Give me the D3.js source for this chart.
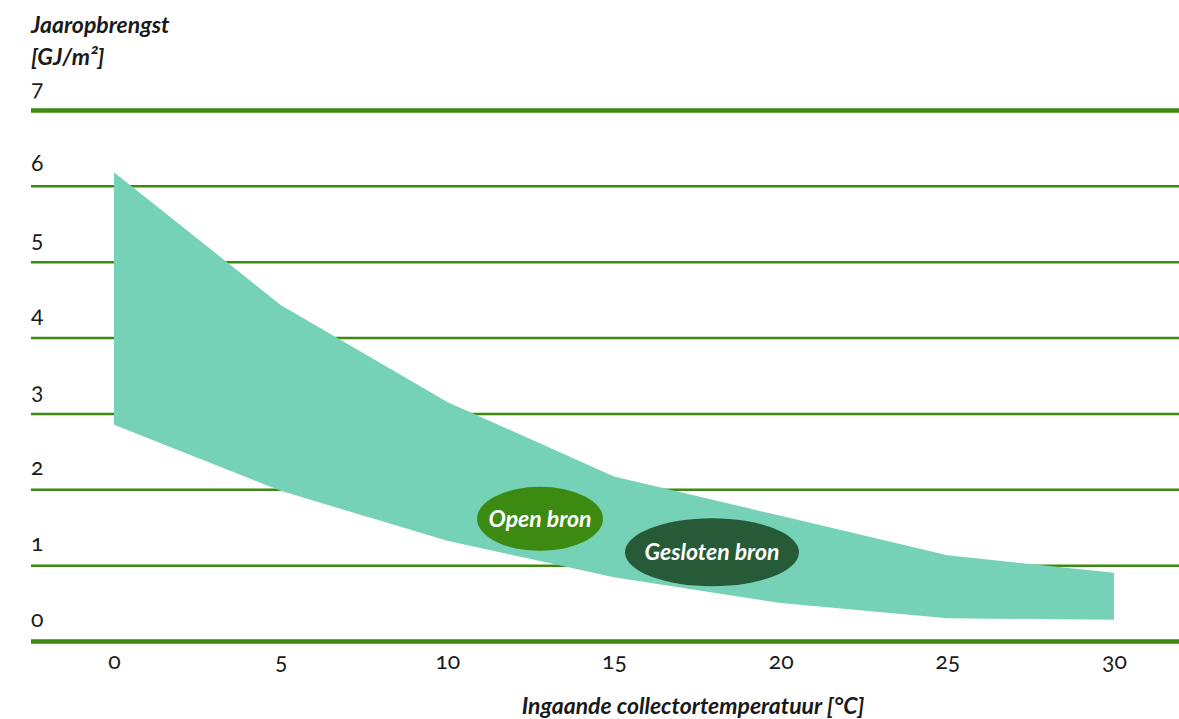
<!DOCTYPE html>
<meta charset="utf-8">
<style>

body {
  margin: 0;
  background: #fff;
}

text {
  font-family: Lato, "Open Sans", sans-serif;
  font-variant-numeric: oldstyle-nums;
  fill: #1a1a1a;
}

.title {
  font-size: 23px;
  font-weight: bold;
  font-style: italic;
}

.tick text {
  font-size: 23px;
}

.label {
  font-size: 23px;
  font-weight: bold;
  font-style: italic;
  fill: #fff;
}

</style>
<svg width="1179" height="719"></svg>
<script src="https://d3js.org/d3.v7.min.js"></script>
<script>

// collector inlet temperature [°C]
var temps = [0, 5, 10, 15, 20, 25, 30];
// yearly yield band [GJ/m2]
var upper = [6.18, 4.43, 3.15, 2.17, 1.65, 1.13, 0.90];
var lower = [2.85, 1.98, 1.32, 0.84, 0.50, 0.30, 0.28];

var yTicks = [0, 1, 2, 3, 4, 5, 6, 7];
var xTicks = [0, 5, 10, 15, 20, 25, 30];

// labels inside the band
var labels = ["Open bron", "Gesloten bron"];
var labelX = [12.78, 17.94];
var labelY = [1.61, 1.17];
var labelColors = ["#3c8a12", "#275b38"];

var svg = d3.select("svg"),
    width = +svg.attr("width"),
    height = +svg.attr("height");

var x = d3.scaleLinear().domain([0, 30]).range([114, 1114]),
    y = d3.scaleLinear().domain([0, 7]).range([641, 110]);

var left = 31;

// gridlines with labels sitting above them
var yAxis = svg.append("g")
    .attr("transform", "translate(" + left + ",0)")
    .call(d3.axisRight(y).tickValues(yTicks).tickSize(width - left).tickFormat(d3.format("d")));

yAxis.select(".domain").remove();
yAxis.selectAll(".tick line")
    .attr("stroke", "#3c8a12")
    .attr("stroke-width", function(d) { return d === 0 || d === 7 ? 4.5 : 2.5; });
yAxis.selectAll(".tick text")
    .attr("x", 0)
    .attr("dy", "-0.65em")
    .attr("text-anchor", "start")
    .attr("fill", "#1a1a1a");

var xAxis = svg.append("g")
    .attr("transform", "translate(0," + y(0) + ")")
    .call(d3.axisBottom(x).tickValues(xTicks).tickSize(0).tickPadding(12).tickFormat(d3.format("d")));

xAxis.select(".domain").remove();
xAxis.selectAll(".tick text").attr("fill", "#1a1a1a");

// band
var band = temps.map(function(t, i) { return {t: t, hi: upper[i], lo: lower[i]}; });

svg.append("path")
    .datum(band)
    .attr("fill", "#76d2b7")
    .attr("d", d3.area()
      .x(function(d) { return x(d.t); })
      .y0(function(d) { return y(d.lo); })
      .y1(function(d) { return y(d.hi); }));

// labels
var lab = svg.selectAll(".lab")
    .data(labels)
  .enter().append("g")
    .attr("class", "lab")
    .attr("transform", function(d, i) { return "translate(" + x(labelX[i]) + "," + y(labelY[i]) + ")"; });

lab.append("ellipse")
    .attr("rx", function(d, i) { return i === 0 ? 63 : 87; })
    .attr("ry", function(d, i) { return i === 0 ? 32 : 34; })
    .attr("fill", function(d, i) { return labelColors[i]; });

lab.append("text")
    .attr("class", "label")
    .attr("text-anchor", "middle")
    .attr("dy", "0.35em")
    .text(function(d) { return d; });

// titles
svg.append("text")
    .attr("class", "title")
    .attr("x", left)
    .attr("y", 33)
    .text("Jaaropbrengst");

svg.append("text")
    .attr("class", "title")
    .attr("x", left)
    .attr("y", 65)
    .text("[GJ/m²]");

svg.append("text")
    .attr("class", "title")
    .attr("x", 693)
    .attr("y", 714)
    .attr("text-anchor", "middle")
    .text("Ingaande collectortemperatuur [°C]");

</script>
